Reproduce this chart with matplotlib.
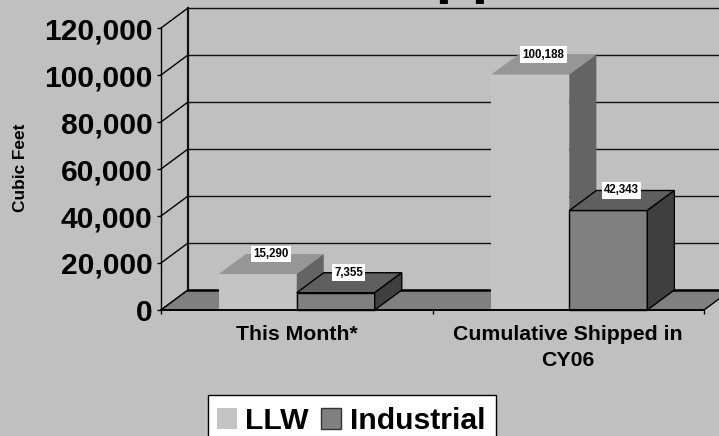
import matplotlib
matplotlib.use('Agg')
import matplotlib.pyplot as plt
from matplotlib.patches import Polygon, Patch, Rectangle

plt.rcParams['font.family'] = ['Liberation Sans', 'DejaVu Sans']
plt.rcParams['font.weight'] = 'bold'

categories = ['This Month*', 'Cumulative Shipped in\nCY06']
series = ['LLW', 'Industrial']
llw = [15290, 100188]
industrial = [7355, 42343]
yticks = [0, 20000, 40000, 60000, 80000, 100000, 120000]

W, H = 719, 436
bg = '#c0c0c0'

# depth of the fake 3d, in data units (27px right, 20px up)
ppx = 2 / 543.0
ppy = 120000 / 282.0
dx = 27 * ppx
dy = 20 * ppy
bw = 78 * ppx
group_x = [0.5, 1.504]

fig = plt.figure(figsize=(W / 100, H / 100), dpi=100, facecolor=bg)
ax = fig.add_axes([161 / W, 1 - 310 / H, 543 / W, 282 / H], facecolor='none')
ax.set_xlim(0, 2)
ax.set_ylim(0, 120000)


def poly(pts, fc, ec='none', lw=1.0, z=2):
    ax.add_patch(Polygon(pts, closed=True, facecolor=fc, edgecolor=ec, linewidth=lw,
                         clip_on=False, zorder=z, joinstyle='miter'))


# walls and gridlines
for t in yticks:
    ax.plot([0, dx], [t, t + dy], color='black', lw=1.0, clip_on=False, zorder=1)
    ax.plot([dx, 2 + dx], [t + dy, t + dy], color='#111111', lw=1.0, clip_on=False, zorder=1)
ax.plot([dx, dx], [dy, 120000 + dy], color='#111111', lw=1.6, clip_on=False, zorder=1)

# floor
poly([(0, 0), (2, 0), (2 + dx, dy), (dx, dy)], '#808080', z=1.5)
ax.plot([dx, 2 + dx], [dy, dy], color='black', lw=1.8, clip_on=False, zorder=1.6)
ax.plot([0, dx], [0, dy], color='black', lw=1.0, clip_on=False, zorder=1.6)
ax.plot([2, 2 + dx], [0, dy], color='black', lw=1.0, clip_on=False, zorder=1.6)


def bar3d(x, v, front, top, side, ec, lw, z):
    ax.bar(x, v, width=bw, align='edge', color=front, edgecolor=ec, linewidth=lw, zorder=z, clip_on=False)
    poly([(x, v), (x + bw, v), (x + bw + dx, v + dy), (x + dx, v + dy)], top, ec, lw, z)
    poly([(x + bw, 0), (x + bw + dx, dy), (x + bw + dx, v + dy), (x + bw, v)], side, ec, lw, z)
    ax.annotate(f'{v:,}', (x + bw / 2, v), xytext=(13, 20), textcoords='offset pixels',
                ha='center', va='center', fontsize=8.3, color='black', zorder=10,
                bbox=dict(facecolor='white', edgecolor='none', pad=1.7))


for i in range(len(categories)):
    z = 3 + i
    bar3d(group_x[i] - bw, llw[i], '#c4c4c4', '#969696', '#646464', 'none', 0, z)
    bar3d(group_x[i], industrial[i], '#808080', '#5f5f5f', '#404040', 'black', 1.0, z + 0.1)

# axes
for s in ['top', 'right']:
    ax.spines[s].set_visible(False)
ax.spines['left'].set_linewidth(1.0)
ax.spines['bottom'].set_linewidth(1.4)
ax.spines['left'].set_zorder(8)
ax.spines['bottom'].set_zorder(8)
ax.set_yticks(yticks)
ax.set_yticklabels([f'{t:,}' for t in yticks], fontsize=21.6, fontweight='bold')
ax.tick_params(axis='y', length=3, width=1.0, pad=3)
ax.set_xticks([0, 1, 2])
ax.set_xticklabels([])
ax.tick_params(axis='x', which='major', length=3, width=1.0)
ax.set_xticks([0.5, 1.5], minor=True)
ax.set_xticklabels(categories, minor=True, fontsize=15.3, fontweight='bold', linespacing=1.47)
ax.tick_params(axis='x', which='minor', length=0, pad=11)
ax.set_ylabel('Cubic Feet', fontsize=12.4, fontweight='bold')
ax.yaxis.set_label_coords((28 - 161) / 543, 0.503)

# title is cut off by the top edge, only the descenders show
fig.text(461 / W, 1 + 8 / H, 'Shipped', fontsize=42.5, fontweight='bold', ha='center', va='baseline')

# legend box runs off the bottom edge like the original
fig.add_artist(Rectangle((208 / W, -20 / H), 288 / W, (41 + 20) / H, transform=fig.transFigure,
                         facecolor='white', edgecolor='black', linewidth=1.0, zorder=5))
handles = [Patch(facecolor='#c4c4c4', edgecolor='none'),
           Patch(facecolor='#808080', edgecolor='#333333', linewidth=1.0)]
fig.legend(handles, series, ncol=2, loc='upper left', bbox_to_anchor=(217 / W, 1 - 407 / H),
           borderaxespad=0, fontsize=21.7, frameon=False, handlelength=0.66, handleheight=0.7,
           handletextpad=0.27, columnspacing=0.43, borderpad=0).set_zorder(6)

fig.savefig('out.png', dpi=100, facecolor=bg)
